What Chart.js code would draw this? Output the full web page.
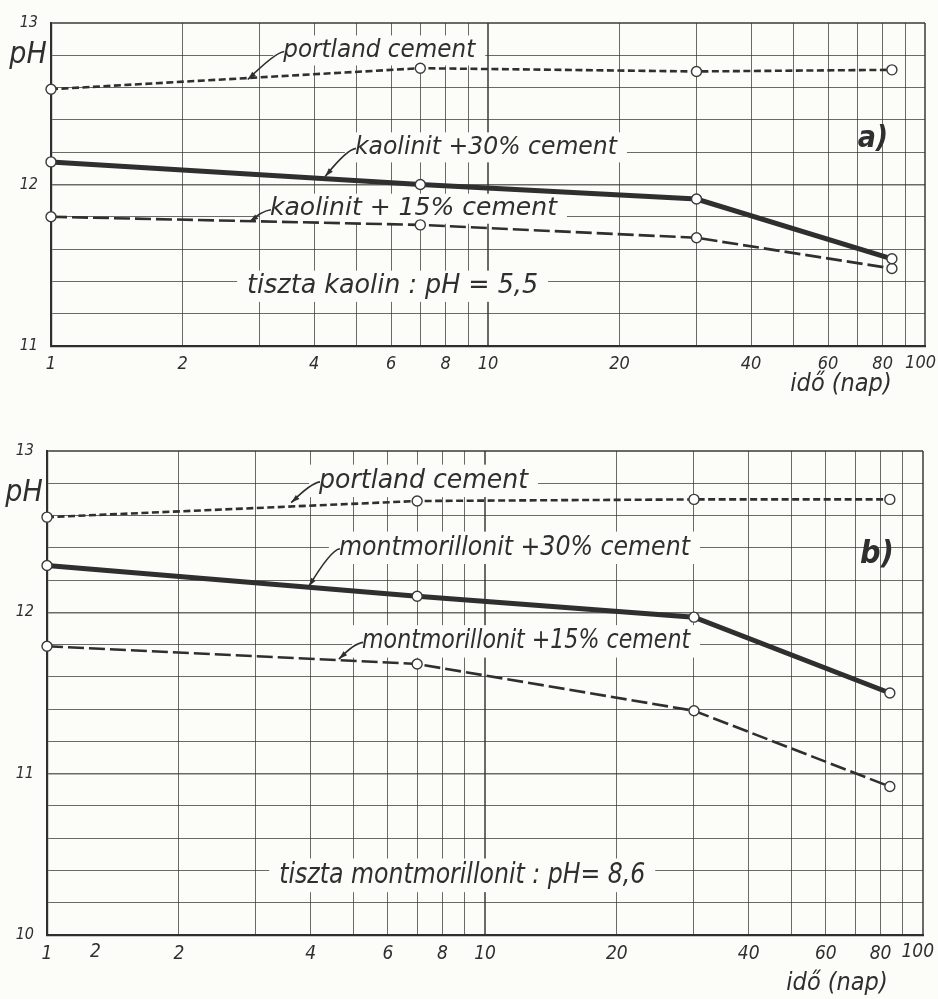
<!DOCTYPE html>
<html>
<head>
<meta charset="utf-8">
<title>pH – idő (nap)</title>
<script src="https://cdn.jsdelivr.net/npm/chart.js@4.4.1/dist/chart.umd.min.js"></script>
<style>
  html, body { margin: 0; padding: 0; background: #fcfcf9; }
  .panel { position: absolute; left: 0; width: 938px; }
  #panelA { top: 0; height: 410px; }
  #panelB { top: 420px; height: 579px; }
</style>
</head>
<body>
<div class="panel" id="panelA"><canvas id="chartA"></canvas></div>
<div class="panel" id="panelB"><canvas id="chartB"></canvas></div>
<script>
// ── Data ─────────────────────────────────────────────────────
const days = [1, 7, 30, 84];

// a) kaolinit
const kaolinPortland = [12.59, 12.72, 12.70, 12.71];
const kaolin30       = [12.14, 12.00, 11.91, 11.54];
const kaolin15       = [11.80, 11.75, 11.67, 11.48];

// b) montmorillonit
const montPortland = [12.59, 12.69, 12.70, 12.70];
const mont30       = [12.29, 12.10, 11.97, 11.50];
const mont15       = [11.79, 11.68, 11.39, 10.92];

// axes
const xGridValues = [1, 2, 3, 4, 5, 6, 7, 8, 9, 10, 20, 30, 40, 50, 60, 70, 80, 90, 100];
const xTickLabels = [1, 2, 4, 6, 8, 10, 20, 40, 60, 80, 100];
const yTickLabelsA = [11, 12, 13];
const yTickLabelsB = [10, 11, 12, 13];

// ── Look ─────────────────────────────────────────────────────
const INK  = '#2f2f2f';
const GRID = 'rgba(50,50,45,0.72)';
const FONT = '"DejaVu Sans Condensed", "Liberation Sans Narrow", "DejaVu Sans", sans-serif';

const lineStyles = {
  portland: { borderWidth: 2.6, borderDash: [7, 3.5] },
  c30:      { borderWidth: 5,   borderDash: [] },
  c15:      { borderWidth: 2.6, borderDash: [16, 5] },
};

function series(values, style) {
  return {
    data: days.map((d, i) => ({ x: d, y: values[i] })),
    borderColor: INK,
    borderWidth: lineStyles[style].borderWidth,
    borderDash: lineStyles[style].borderDash,
    tension: 0,
    pointRadius: 5,
    pointBorderWidth: 1.4,
    pointBackgroundColor: '#ffffff',
    pointBorderColor: '#3a3a3a',
    clip: false,
  };
}

// ── Labels, leaders and panel letters drawn on the canvas ────
function drawItalic(ctx, text, x, y, size, width, align) {
  ctx.save();
  ctx.font = `italic ${size}px ${FONT}`;
  ctx.textBaseline = 'middle';
  ctx.textAlign = 'left';
  const w = ctx.measureText(text).width;
  const sx = width ? width / w : 1;
  const drawn = w * sx;
  const left = align === 'center' ? x - drawn / 2 : x;
  ctx.translate(left, y);
  ctx.scale(sx, 1);
  ctx.fillStyle = INK;
  ctx.fillText(text, 0, 0);
  ctx.restore();
}

function drawLeader(ctx, x0, y0, x1, y1) {
  ctx.save();
  ctx.strokeStyle = INK;
  ctx.fillStyle = INK;
  ctx.lineWidth = 1.6;
  ctx.beginPath();
  ctx.moveTo(x0 + 3, y0 - 3);
  ctx.quadraticCurveTo(x0 - 6, y0 - 2, x1, y1);
  ctx.stroke();
  const a = Math.atan2(y1 - y0, x1 - (x0 - 6));
  ctx.beginPath();
  ctx.moveTo(x1, y1);
  ctx.lineTo(x1 - 9 * Math.cos(a - 0.3), y1 - 9 * Math.sin(a - 0.3));
  ctx.lineTo(x1 - 9 * Math.cos(a + 0.3), y1 - 9 * Math.sin(a + 0.3));
  ctx.closePath();
  ctx.fill();
  ctx.restore();
}

const notesPlugin = {
  id: 'notes',
  beforeDatasetsDraw(chart, args, opts) {
    const { ctx, scales: { x, y } } = chart;
    (opts.items || []).forEach(n => {
      const left = x.getPixelForValue(n.x);
      const cy = y.getPixelForValue(n.y);
      // paper shows through behind the lettering
      ctx.save();
      ctx.fillStyle = '#fcfcf9';
      ctx.fillRect(left - 10, cy - n.size * 0.6, n.w + 20, n.size * 1.2);
      ctx.restore();
      drawItalic(ctx, n.text, left, cy, n.size, n.w);
      if (n.tip) {
        drawLeader(ctx, left - 2, cy + 4, x.getPixelForValue(n.tip[0]), y.getPixelForValue(n.tip[1]));
      }
    });
  },
  afterDraw(chart, args, opts) {
    const { ctx, chartArea, scales: { x, y } } = chart;
    // pH
    drawItalic(ctx, 'pH', chartArea.left - 23, y.getPixelForValue(opts.phAt), 30, null, 'center');
    // panel letter
    ctx.save();
    ctx.font = `italic bold ${opts.letterSize}px ${FONT}`;
    ctx.fillStyle = INK;
    ctx.textAlign = 'center';
    ctx.textBaseline = 'middle';
    ctx.fillText(opts.letter, x.getPixelForValue(opts.letterAt[0]), y.getPixelForValue(opts.letterAt[1]));
    ctx.restore();
    // axis title
    drawItalic(ctx, 'idő (nap)', opts.titleX, chartArea.bottom + opts.titleDy, 25, null, 'center');
    // last tick label is tucked in against the page edge; extra hand-lettered tick
    ctx.save();
    ctx.font = `italic ${opts.tickSize}px ${FONT}`;
    ctx.fillStyle = INK;
    ctx.textBaseline = 'top';
    ctx.textAlign = 'right';
    ctx.fillText(String(xTickLabels[xTickLabels.length - 1]), chartArea.right + 11, chartArea.bottom + 8);
    ctx.textAlign = 'center';
    (opts.extraTicks || []).forEach(t => {
      ctx.fillText(t.label, x.getPixelForValue(t.value), chartArea.bottom + 8);
    });
    ctx.restore();
  },
};

function yGridValues(min, max) {
  const out = [];
  for (let i = 0; i <= Math.round((max - min) / 0.2); i++) out.push(+(min + i * 0.2).toFixed(1));
  return out;
}

function makeChart(id, cfg) {
  const isInt = v => Math.abs(v - Math.round(v)) < 1e-6;
  const lastX = xTickLabels[xTickLabels.length - 1];
  return new Chart(document.getElementById(id), {
    type: 'line',
    data: {
      datasets: [
        series(cfg.portland, 'portland'),
        series(cfg.c30, 'c30'),
        series(cfg.c15, 'c15'),
      ],
    },
    options: {
      responsive: true,
      maintainAspectRatio: false,
      animation: false,
      layout: { padding: cfg.padding },
      plugins: {
        legend: { display: false },
        tooltip: { enabled: false },
        notes: cfg.notes,
      },
      scales: {
        x: {
          type: 'logarithmic',
          min: 1,
          max: 100,
          afterBuildTicks: s => { s.ticks = xGridValues.map(v => ({ value: v })); },
          afterFit: s => {
            s.height = cfg.xAxisHeight;
            s.paddingLeft = 0;
            s.paddingRight = 0;
          },
          ticks: {
            autoSkip: false,
            maxRotation: 0,
            padding: 8,
            color: c => (c.tick && c.tick.value === lastX ? 'rgba(0,0,0,0)' : INK),
            font: { family: FONT, size: cfg.notes.tickSize, style: 'italic' },
            callback: v => (xTickLabels.includes(v) ? String(v) : ''),
          },
          grid: {
            drawTicks: false,
            color: GRID,
            lineWidth: c => (c.tick && (c.tick.value === 10 || c.tick.value === 100) ? 2 : 1),
          },
          border: { color: INK, width: 2.2 },
        },
        y: {
          type: 'linear',
          min: cfg.yMin,
          max: cfg.yMax,
          afterBuildTicks: s => { s.ticks = yGridValues(cfg.yMin, cfg.yMax).map(v => ({ value: v })); },
          afterFit: s => { s.width = cfg.yAxisWidth; },
          ticks: {
            autoSkip: false,
            padding: 13,
            color: INK,
            font: { family: FONT, size: 16, style: 'italic' },
            callback: v => (isInt(v) && cfg.yLabels.includes(Math.round(v)) ? String(Math.round(v)) : ''),
          },
          grid: {
            drawTicks: false,
            color: GRID,
            lineWidth: c => (c.tick && isInt(c.tick.value) ? (c.tick.value === cfg.yMax ? 2 : 1.6) : 1),
          },
          border: { color: INK, width: 2.2 },
        },
      },
    },
    plugins: [notesPlugin],
  });
}

// ── a) kaolinit ──────────────────────────────────────────────
makeChart('chartA', {
  portland: kaolinPortland, c30: kaolin30, c15: kaolin15,
  yMin: 11, yMax: 13, yLabels: yTickLabelsA,
  padding: { top: 23, right: 13, left: 0, bottom: 0 },
  yAxisWidth: 51, xAxisHeight: 64,
  notes: {
    tickSize: 18,
    phAt: 12.8,
    letter: 'a)', letterAt: [76, 12.28], letterSize: 30,
    titleX: 841, titleDy: 38,
    items: [
      { text: 'portland cement',          x: 3.4,  y: 12.83, w: 192, size: 25, tip: [2.82, 12.65] },
      { text: 'kaolinit +30% cement',     x: 4.96, y: 12.23, w: 262, size: 25, tip: [4.24, 12.05] },
      { text: 'kaolinit + 15% cement',    x: 3.17, y: 11.85, w: 287, size: 25, tip: [2.85, 11.77] },
      { text: 'tiszta kaolin : pH = 5,5', x: 2.81, y: 11.37, w: 291, size: 26 },
    ],
  },
});

// ── b) montmorillonit ────────────────────────────────────────
makeChart('chartB', {
  portland: montPortland, c30: mont30, c15: mont15,
  yMin: 10, yMax: 13, yLabels: yTickLabelsB,
  padding: { top: 31, right: 15, left: 0, bottom: 0 },
  yAxisWidth: 47, xAxisHeight: 64,
  notes: {
    tickSize: 19,
    phAt: 12.74,
    letter: 'b)', letterAt: [78.5, 12.36], letterSize: 32,
    titleX: 837, titleDy: 48,
    extraTicks: [{ value: 1.29, label: '2' }],
    items: [
      { text: 'portland cement',                 x: 4.18, y: 12.815, w: 209, size: 27, tip: [3.61, 12.68] },
      { text: 'montmorillonit +30% cement',      x: 4.64, y: 12.40,  w: 351, size: 27, tip: [3.96, 12.16] },
      { text: 'montmorillonit +15% cement',      x: 5.24, y: 11.82,  w: 328, size: 27, tip: [4.64, 11.71] },
      { text: 'tiszta montmorillonit : pH= 8,6', x: 3.39, y: 10.37,  w: 366, size: 28 },
    ],
  },
});
</script>
</body>
</html>
